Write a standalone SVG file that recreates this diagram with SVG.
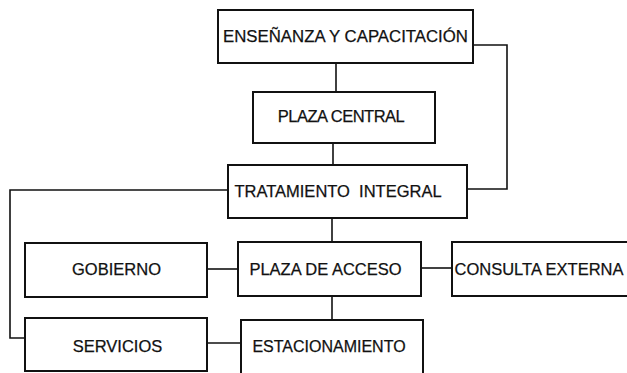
<svg xmlns="http://www.w3.org/2000/svg" width="627" height="373" viewBox="0 0 627 373">
<style>
.box{fill:#fff;stroke:#111;stroke-width:2}
.t{font-family:"Liberation Sans",Arial,sans-serif;font-size:16.5px;fill:#111;stroke:#111;stroke-width:0.25;text-anchor:middle}
.c{fill:none;stroke:#111;stroke-width:1.6}
</style>
<rect width="627" height="373" fill="#fff"/>
<g id="connectors">
<path class="c" d="M336 63V92"/>
<path class="c" d="M473 45H507V189H467"/>
<path class="c" d="M333 143V165"/>
<path class="c" d="M228 190H10V338H25"/>
<path class="c" d="M332 218V242"/>
<path class="c" d="M207 269H238"/>
<path class="c" d="M421 268H452"/>
<path class="c" d="M332 296V320"/>
<path class="c" d="M207 343H241"/>
</g>
<g id="ensenanza"><rect class="box" x="218" y="10" width="255" height="53"/><text class="t" x="345.5" y="42" style="font-size:16.8px">ENSEÑANZA Y CAPACITACIÓN</text></g>
<g id="plaza-central"><rect class="box" x="253" y="92" width="182" height="51"/><text class="t" x="341" y="122" style="letter-spacing:-0.5px">PLAZA CENTRAL</text></g>
<g id="tratamiento"><rect class="box" x="228" y="165" width="239" height="53"/><text class="t" x="338" y="197" xml:space="preserve">TRATAMIENTO  INTEGRAL</text></g>
<g id="gobierno"><rect class="box" x="25" y="243" width="182" height="54"/><text class="t" x="116.5" y="275">GOBIERNO</text></g>
<g id="plaza-acceso"><rect class="box" x="238" y="242" width="183" height="54"/><text class="t" x="325.5" y="275">PLAZA DE ACCESO</text></g>
<g id="consulta"><rect class="box" x="452" y="242" width="190" height="54"/><text class="t" x="539" y="275">CONSULTA EXTERNA</text></g>
<g id="servicios"><rect class="box" x="25" y="318" width="182" height="53"/><text class="t" x="117.5" y="352">SERVICIOS</text></g>
<g id="estacionamiento"><rect class="box" x="241" y="320" width="182" height="60"/><text class="t" x="329" y="352" style="font-size:16px">ESTACIONAMIENTO</text></g>
</svg>
